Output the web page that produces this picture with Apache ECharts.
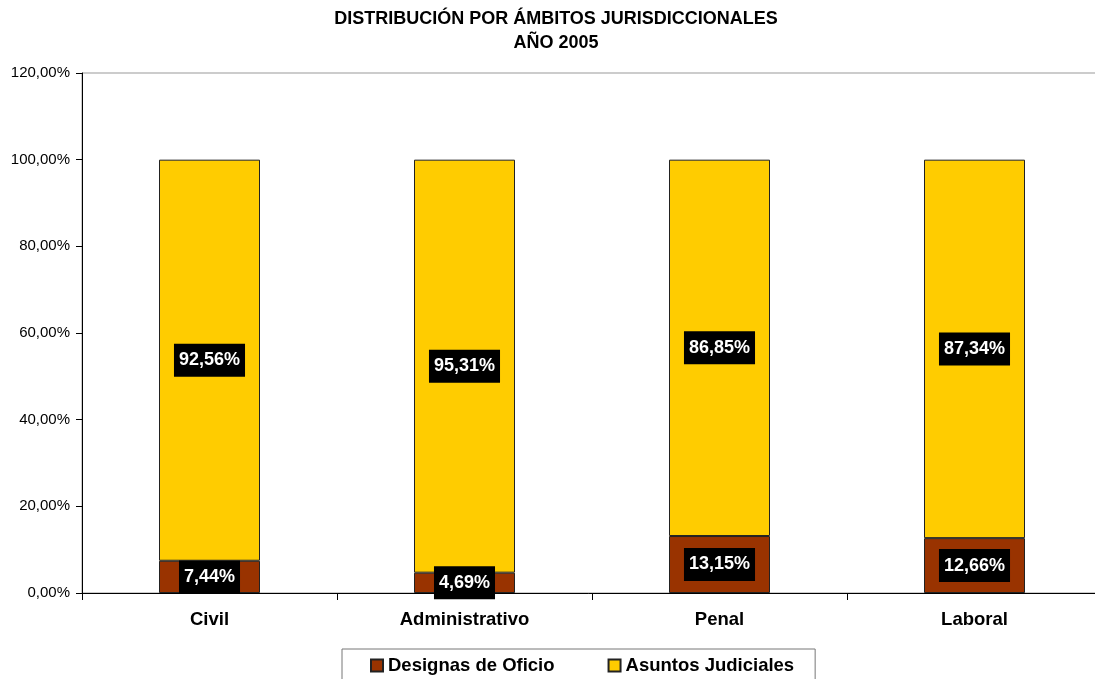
<!DOCTYPE html>
<html><head><meta charset="utf-8">
<script src="https://cdn.jsdelivr.net/npm/echarts@6/dist/echarts.min.js"></script>
<style>html,body{margin:0;padding:0;background:#fff;overflow:hidden}#c{width:1095px;height:679px}</style>
</head><body><div id="c"></div>
<script>
const categories = ['Civil', 'Administrativo', 'Penal', 'Laboral'];
const designasDeOficio = [7.44, 4.69, 13.15, 12.66];
const asuntosJudiciales = [92.56, 95.31, 86.85, 87.34];
const seriesNames = ['Designas de Oficio', 'Asuntos Judiciales'];
const titleLines = ['DISTRIBUCIÓN POR ÁMBITOS JURISDICCIONALES', 'AÑO 2005'];

const FONT = '"Liberation Sans", Arial, sans-serif';
const fmt = v => v.toFixed(2).replace('.', ',') + '%';
const labelCfg = {
  show: true, position: 'inside',
  formatter: p => fmt(p.value),
  color: '#fff', fontFamily: FONT, fontWeight: 'bold', fontSize: 18,
  backgroundColor: '#000', padding: [7, 5, 6, 5], lineHeight: 20
};
const chart = echarts.init(document.getElementById('c'), null, {renderer: 'canvas'});
chart.setOption({
  animation: false,
  backgroundColor: '#fff',
  title: {
    text: titleLines.join('\n'), left: 551, textAlign: 'center', top: 2,
    textStyle: {fontFamily: FONT, fontWeight: 'bold', fontSize: 18, lineHeight: 24, color: '#000'}
  },
  grid: {left: 82, width: 1020, top: 73, height: 520, outerBoundsMode: 'none', containLabel: false,
    show: true, borderColor: '#999', borderWidth: 1, backgroundColor: 'transparent'},
  legend: {
    data: seriesNames, left: 342, top: 649,
    borderColor: '#777', borderWidth: 1, padding: [7, 21, 20, 28],
    itemWidth: 12, itemHeight: 12, itemGap: 53, icon: 'rect',
    textStyle: {fontFamily: FONT, fontWeight: 'bold', fontSize: 18.5, color: '#000'}
  },
  xAxis: {
    type: 'category', data: categories,
    axisLine: {lineStyle: {color: '#000', width: 1}},
    axisTick: {show: true, length: 7, lineStyle: {color: '#000'}},
    axisLabel: {fontFamily: FONT, fontWeight: 'bold', fontSize: 18.5, color: '#000', margin: 17}
  },
  yAxis: {
    type: 'value', min: 0, max: 120, interval: 20,
    axisLine: {show: true, lineStyle: {color: '#000', width: 1}},
    axisTick: {show: true, length: 6, lineStyle: {color: '#000'}},
    splitLine: {show: false},
    axisLabel: {fontFamily: FONT, fontSize: 15, color: '#000', margin: 12, formatter: v => v.toFixed(2).replace('.', ',') + '%'}
  },
  series: [
    {name: seriesNames[0], type: 'bar', stack: 's', data: designasDeOficio, barWidth: 101,
      itemStyle: {color: '#993300', borderColor: '#222', borderWidth: 1}, label: labelCfg},
    {name: seriesNames[1], type: 'bar', stack: 's', data: asuntosJudiciales, barWidth: 101,
      itemStyle: {color: '#FFCC00', borderColor: '#222', borderWidth: 1}, label: labelCfg}
  ]
});
</script></body></html>
